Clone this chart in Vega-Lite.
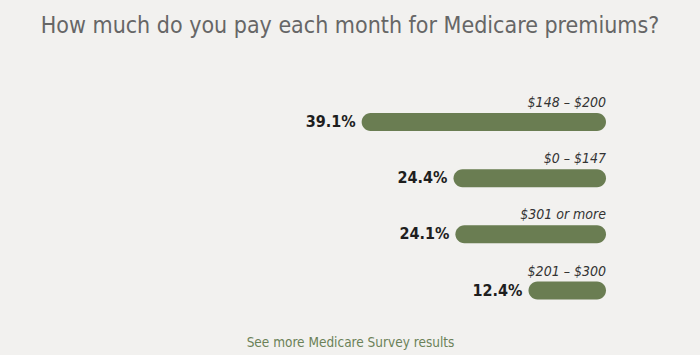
{
  "$schema": "https://vega.github.io/schema/vega-lite/v6.json",
  "width": 700,
  "height": 355,
  "autosize": {"type": "fit", "contains": "padding"},
  "padding": {"top": 15, "bottom": 6, "left": 0, "right": 0},
  "background": "#f2f1ef",
  "title": {
    "text": "How much do you pay each month for Medicare premiums?",
    "font": "DejaVu Sans Condensed",
    "fontSize": 23,
    "fontWeight": "normal",
    "color": "#666666",
    "anchor": "middle",
    "offset": 10
  },
  "data": {
    "values": [
      {"range": "$148 – $200", "share": 0.391},
      {"range": "$0 – $147", "share": 0.244},
      {"range": "$301 or more", "share": 0.241},
      {"range": "$201 – $300", "share": 0.124}
    ]
  },
  "encoding": {
    "y": {
      "field": "range",
      "type": "nominal",
      "sort": null,
      "scale": {"range": [45.9, 270.6], "paddingInner": 0, "paddingOuter": 0},
      "axis": null
    }
  },
  "layer": [
    {
      "mark": {"type": "bar", "color": "#6a7d52", "cornerRadius": 9, "height": 18},
      "encoding": {
        "x": {
          "field": "share",
          "type": "quantitative",
          "scale": {"domain": [-0.1504, 0.9696], "reverse": true, "nice": false, "zero": false},
          "axis": {
            "title": "See more Medicare Survey results",
            "titleFont": "DejaVu Sans Condensed",
            "titleFontSize": 13.5,
            "titleFontWeight": "normal",
            "titleColor": "#6b8158",
            "titlePadding": 0,
            "labels": false,
            "ticks": false,
            "domain": false,
            "grid": false
          }
        },
        "x2": {"datum": 0}
      }
    },
    {
      "mark": {"type": "text", "align": "right", "baseline": "alphabetic", "dy": -15, "fontStyle": "italic", "font": "DejaVu Sans Condensed", "fontSize": 14, "color": "#333333"},
      "encoding": {
        "x": {"datum": 0},
        "text": {"field": "range"}
      }
    },
    {
      "mark": {"type": "text", "align": "right", "baseline": "middle", "dx": -6, "fontWeight": "bold", "font": "DejaVu Sans Condensed", "fontSize": 16, "color": "#1e1e1e"},
      "encoding": {
        "x": {"field": "share", "type": "quantitative"},
        "text": {"field": "share", "type": "quantitative", "format": ".1%"}
      }
    }
  ],
  "config": {"view": {"stroke": null}}
}
